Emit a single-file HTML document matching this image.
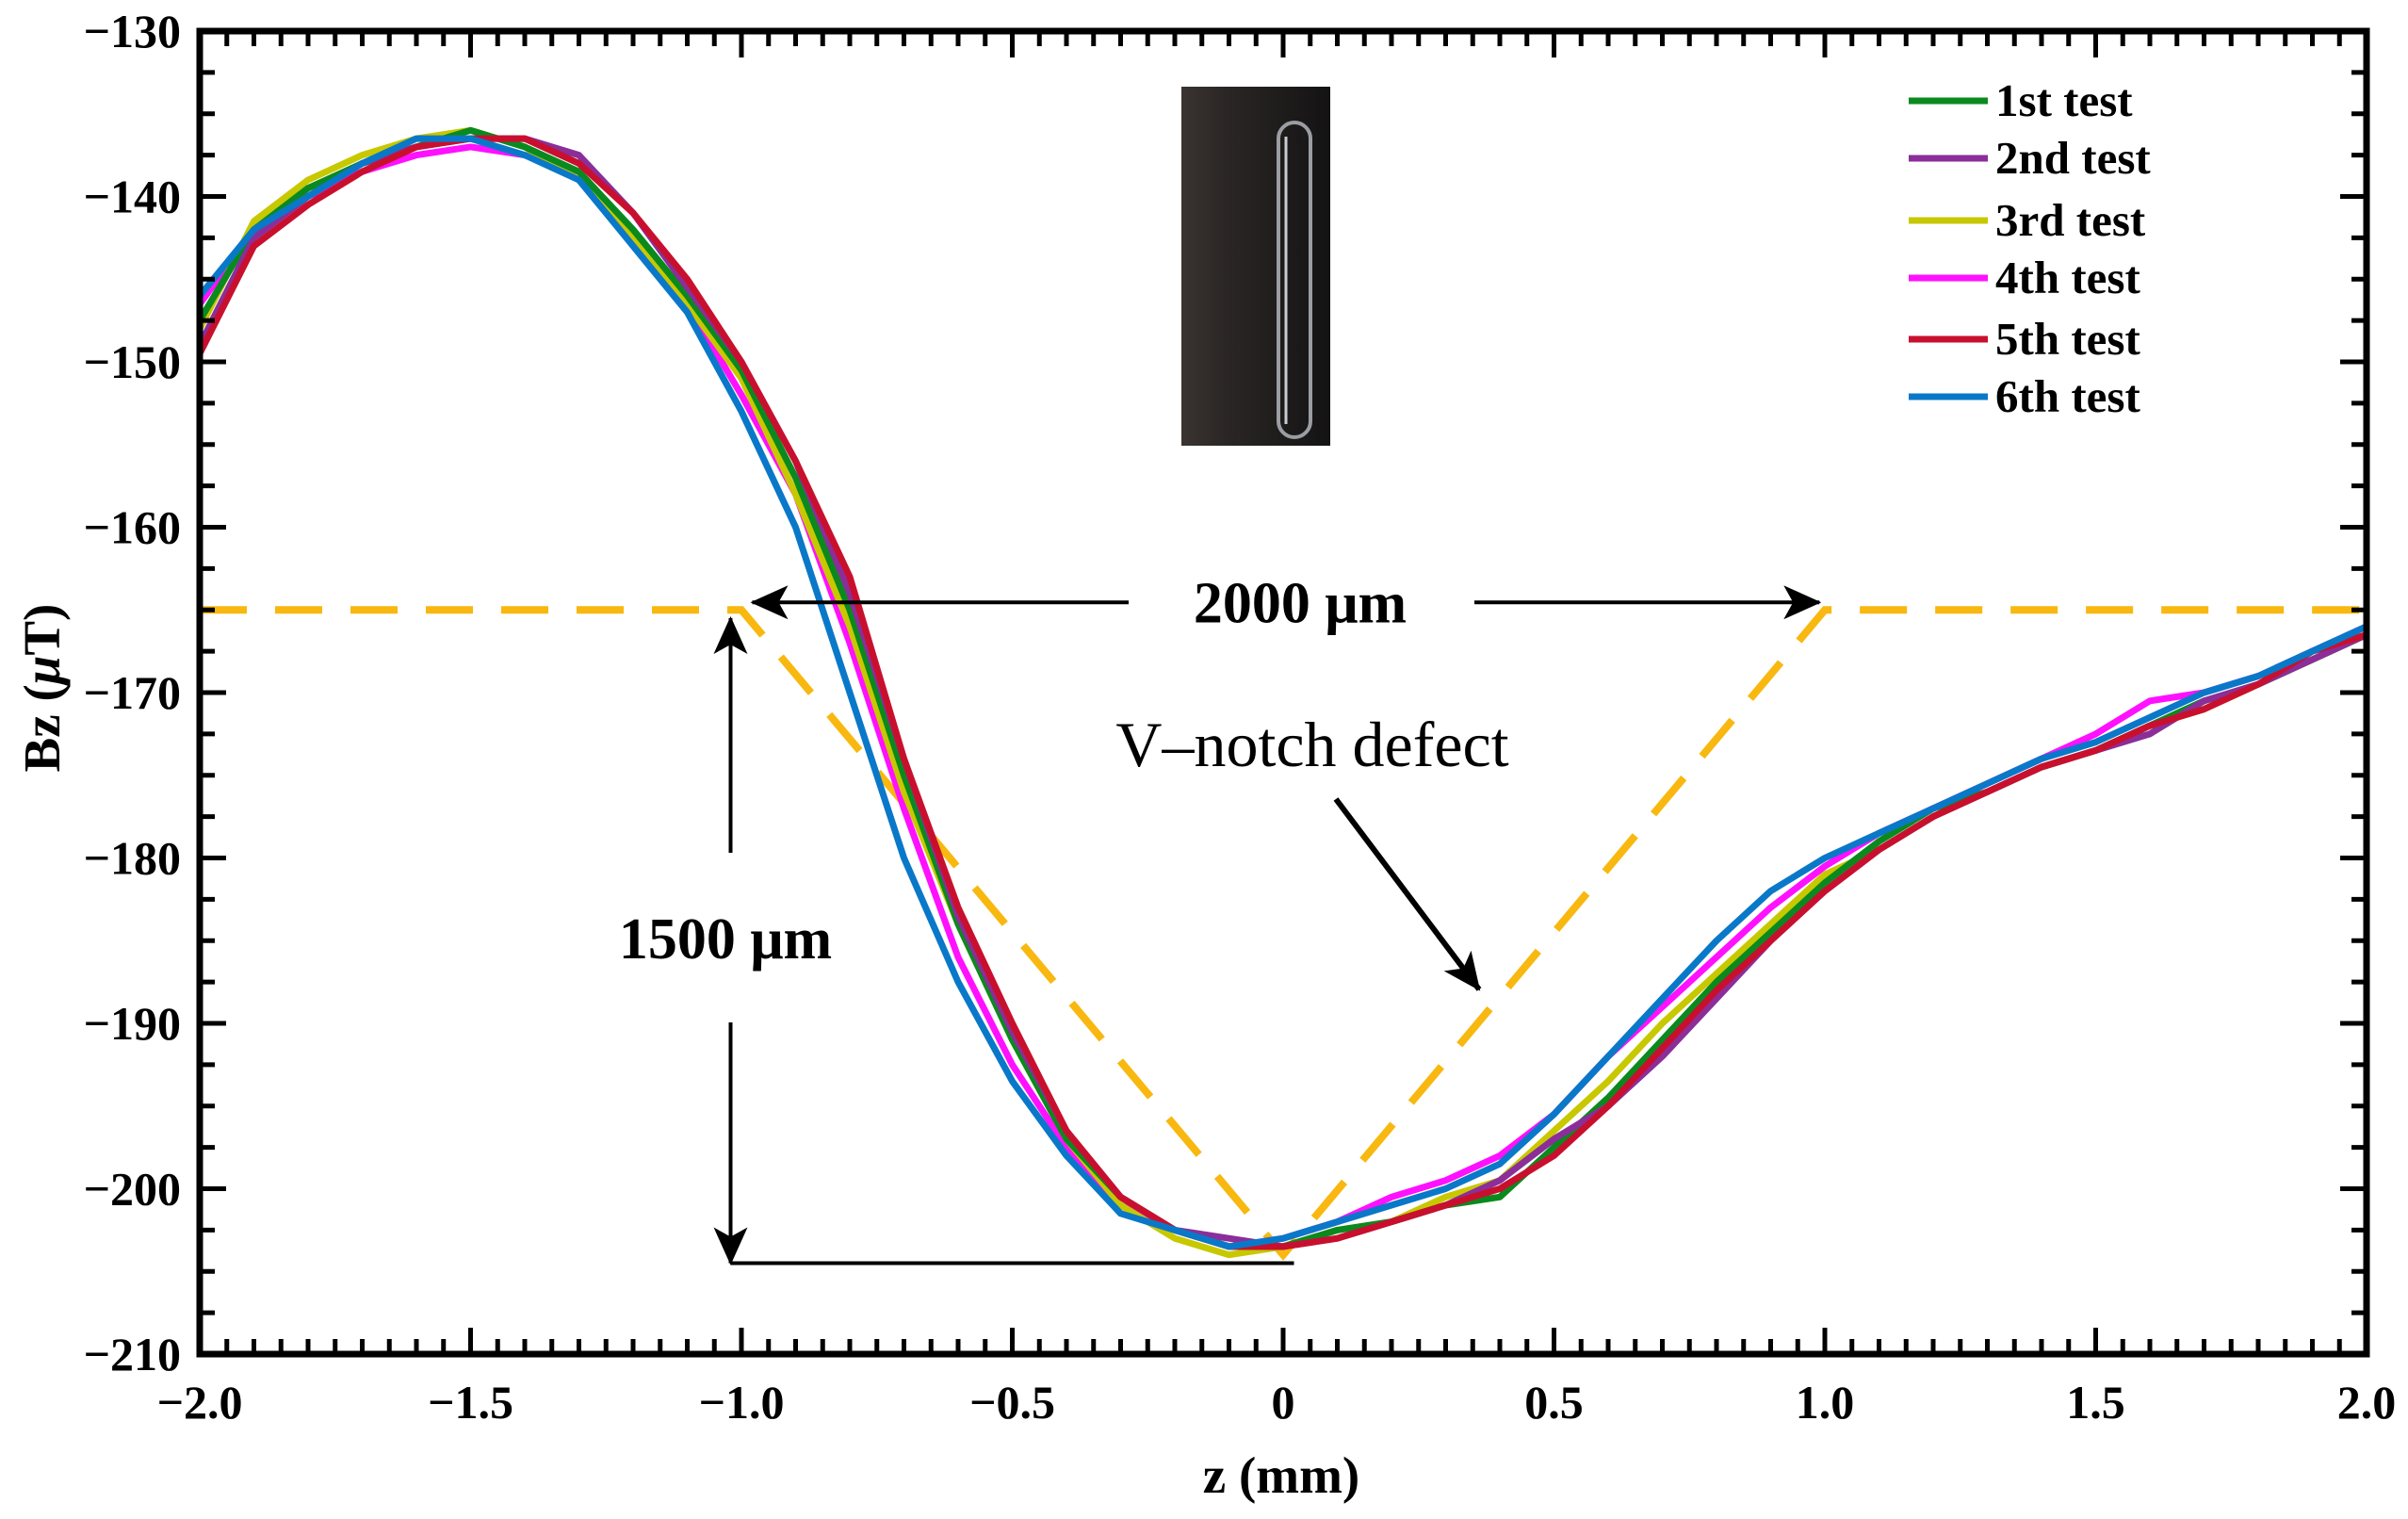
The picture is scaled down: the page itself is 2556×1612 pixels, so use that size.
<!DOCTYPE html>
<html><head><meta charset="utf-8"><style>
html,body{margin:0;padding:0;background:#fff;}
svg{display:block;font-family:"Liberation Serif",serif;}
</style></head><body>
<svg id="chart" width="2556" height="1612" viewBox="0 0 2556 1612">
<defs>
<linearGradient id="insetGrad" x1="0" x2="1" y1="0" y2="0">
<stop offset="0" stop-color="#3a3431"/><stop offset="0.3" stop-color="#2a2625"/><stop offset="1" stop-color="#141313"/>
</linearGradient>
<marker id="arrBig" viewBox="0 0 40 36" refX="38" refY="18" markerWidth="40" markerHeight="36" markerUnits="userSpaceOnUse" orient="auto"><path d="M0,0 L40,18 L0,36 L10,18 Z" fill="#000"/></marker>
</defs>
<g id="marks"></g>
<g id="axes"></g>
<g id="annot"></g>
<g id="legend"></g>
</svg>
<script>
const zValues = [-2,-1.9,-1.8,-1.7,-1.6,-1.5,-1.4,-1.3,-1.2,-1.1,-1.0,-0.9,-0.8,-0.7,-0.6,-0.5,-0.4,-0.3,-0.2,-0.1,0,0.1,0.2,0.3,0.4,0.5,0.6,0.7,0.8,0.9,1.0,1.1,1.2,1.3,1.4,1.5,1.6,1.7,1.8,1.9,2.0];
const test1 = [-147.5,-142,-139.5,-138,-137,-136,-137,-138.5,-142,-146,-150.5,-157,-165,-175,-184,-191,-197,-200.5,-202.5,-203.5,-203.5,-202.5,-202,-201,-200.5,-197.5,-194.5,-191,-187.5,-184.5,-181.5,-179,-177,-176,-174.5,-173.5,-172,-170.5,-169.5,-168,-166.5];
const test2 = [-149,-142.5,-140,-138,-137,-136.5,-136.5,-137.5,-141,-145.5,-150,-156,-164,-174,-183.5,-190.5,-196.5,-200.5,-202.5,-203,-203.5,-203,-202,-201,-199.5,-197,-195,-192,-188.5,-185,-182,-179.5,-177.5,-176,-174.5,-173.5,-172.5,-170.5,-169.5,-168,-166.5];
const test3 = [-148,-141.5,-139,-137.5,-136.5,-136,-137,-139,-142.5,-146.5,-151,-158,-166,-176,-184,-191,-197,-201,-203,-204,-203.5,-202.5,-202,-200.5,-199.5,-196.5,-193.5,-190,-187,-184,-181,-179.5,-177.5,-176,-174.5,-173.5,-172,-171,-169.5,-168,-166.5];
const test4 = [-146.5,-142,-140,-138.5,-137.5,-137,-137.5,-138.5,-142.5,-146.5,-152,-158,-167,-177,-186,-192.5,-197.5,-201,-202.5,-203.5,-203,-202,-200.5,-199.5,-198,-195.5,-192,-189,-186,-183,-180.5,-178.5,-177,-175.5,-174,-172.5,-170.5,-170,-169,-167.5,-166];
const test5 = [-149.5,-143,-140.5,-138.5,-137,-136.5,-136.5,-138,-141,-145,-150,-156,-163,-174,-183,-190,-196.5,-200.5,-202.5,-203.5,-203.5,-203,-202,-201,-200,-198,-195,-191.5,-188,-185,-182,-179.5,-177.5,-176,-174.5,-173.5,-172,-171,-169.5,-167.5,-166.5];
const test6 = [-146,-142,-140,-138,-136.5,-136.5,-137.5,-139,-143,-147,-153,-160,-170,-180,-187.5,-193.5,-198,-201.5,-202.5,-203.5,-203,-202,-201,-200,-198.5,-195.5,-192,-188.5,-185,-182,-180,-178.5,-177,-175.5,-174,-173,-171.5,-170,-169,-167.5,-166];
const seriesNames = ["1st test","2nd test","3rd test","4th test","5th test","6th test"];
const notchZ = [-2,-1,0,1,2];
const notchB = [-165,-165,-204,-165,-165];
const xTicks = [-2.0,-1.5,-1.0,-0.5,0,0.5,1.0,1.5,2.0];
const xTickLabels = ["\u22122.0","\u22121.5","\u22121.0","\u22120.5","0","0.5","1.0","1.5","2.0"];
const yTicks = [-130,-140,-150,-160,-170,-180,-190,-200,-210];
const yTickLabels = ["\u2212130","\u2212140","\u2212150","\u2212160","\u2212170","\u2212180","\u2212190","\u2212200","\u2212210"];

const L=212,R=2512,T=33,B=1437;
const X0=-2,X1=2,Y0=-210,Y1=-130;
const xs=v=>L+(v-X0)/(X1-X0)*(R-L);
const ys=v=>B-(v-Y0)/(Y1-Y0)*(B-T);
const NS='http://www.w3.org/2000/svg';
function mk(tag,attrs,parent){const e=document.createElementNS(NS,tag);for(const k in attrs)e.setAttribute(k,attrs[k]);parent.appendChild(e);return e;}
const marks=document.getElementById('marks'),axes=document.getElementById('axes'),annot=document.getElementById('annot'),legend=document.getElementById('legend');

const inset=mk('g',{},marks);


mk('rect',{x:1254,y:92,width:158,height:381,fill:'url(#insetGrad)'},inset);
mk('rect',{x:1357,y:130,width:34,height:334,rx:17,fill:'none',stroke:'#9a9ea3','stroke-width':4},inset);
mk('line',{x1:1365,y1:145,x2:1365,y2:450,stroke:'#c8ccd0','stroke-width':3},inset);

const np=notchZ.map((z,i)=>xs(z)+','+ys(notchB[i])).join(' ');
const notch=mk('polyline',{points:np,fill:'none',stroke:'#f8b810','stroke-width':8,'stroke-dasharray':'50 30'},marks);



const series=[test1,test2,test3,test4,test5,test6];
const colors=['#0a8a1e','#8b2e9a','#c8c800','#ff10ff','#c8102e','#0a78c8'];
const drawOrder=[3,2,0,1,4,5];
drawOrder.forEach(si=>{
  const pts=zValues.map((z,i)=>xs(z).toFixed(1)+','+ys(series[si][i]).toFixed(1)).join(' ');
  const pl=mk('polyline',{points:pts,fill:'none',stroke:colors[si],'stroke-width':7,'stroke-linejoin':'round'},marks);
  
  
});

const frame=mk('rect',{x:L,y:T,width:R-L,height:B-T,fill:'none',stroke:'#000','stroke-width':7},axes);


for(let i=0;i<=80;i++){const v=X0+i*0.05;const len=(i%10===0)?28:16;const x=xs(v);
  mk('line',{x1:x,y1:B,x2:x,y2:B-len,stroke:'#000','stroke-width':5},axes);
  mk('line',{x1:x,y1:T,x2:x,y2:T+len,stroke:'#000','stroke-width':5},axes);}
for(let i=0;i<=32;i++){const v=Y0+i*2.5;const len=(i%4===0)?28:16;const y=ys(v);
  mk('line',{x1:L,y1:y,x2:L+len,y2:y,stroke:'#000','stroke-width':5},axes);
  mk('line',{x1:R,y1:y,x2:R-len,y2:y,stroke:'#000','stroke-width':5},axes);}
xTicks.forEach((v,i)=>{const t=mk('text',{x:xs(v),y:1505,'text-anchor':'middle','font-size':50,'font-weight':'bold'},axes);t.textContent=xTickLabels[i];
  
  });
yTicks.forEach((v,i)=>{const t=mk('text',{x:192,y:ys(v)+17,'text-anchor':'end','font-size':50,'font-weight':'bold'},axes);t.textContent=yTickLabels[i];
  
  });
const xt=mk('text',{x:1360,y:1584,'text-anchor':'middle','font-size':55,'font-weight':'bold'},axes);xt.textContent='z (mm)';


const yt=mk('text',{x:0,y:0,'text-anchor':'middle','font-size':55,'font-weight':'bold',transform:'translate(63,730) rotate(-90)'},axes);
yt.innerHTML='Bz (<tspan font-style="italic">\u03bc</tspan>T)';



const yTop=ys(-165);
mk('line',{x1:1198,y1:yTop-8,x2:xs(-0.98),y2:yTop-8,stroke:'#000','stroke-width':4,'marker-end':'url(#arrBig)'},annot);
mk('line',{x1:1565,y1:yTop-8,x2:xs(0.99),y2:yTop-8,stroke:'#000','stroke-width':4,'marker-end':'url(#arrBig)'},annot);
const t2000=mk('text',{x:1380,y:yTop+13,'text-anchor':'middle','font-size':62,'font-weight':'bold'},annot);t2000.textContent='2000 \u03bcm';


const vx=xs(-1.02);
mk('line',{x1:vx,y1:905,x2:vx,y2:ys(-165.5),stroke:'#000','stroke-width':4,'marker-end':'url(#arrBig)'},annot);
mk('line',{x1:vx,y1:1085,x2:vx,y2:ys(-204.5),stroke:'#000','stroke-width':4,'marker-end':'url(#arrBig)'},annot);
mk('line',{x1:vx,y1:ys(-204.5),x2:xs(0.02),y2:ys(-204.5),stroke:'#000','stroke-width':4},annot);
const t1500=mk('text',{x:770,y:1017,'text-anchor':'middle','font-size':62,'font-weight':'bold'},annot);t1500.textContent='1500 \u03bcm';


const tv=mk('text',{x:1393,y:813,'text-anchor':'middle','font-size':68},annot);tv.textContent='V\u2013notch defect';


mk('line',{x1:1418,y1:848,x2:1570,y2:1050,stroke:'#000','stroke-width':6,'marker-end':'url(#arrBig)'},annot);

const ly=[107,168,234,295,360,421];
seriesNames.forEach((n,i)=>{
  const g=mk('g',{},legend);
  
  
  mk('line',{x1:2026,y1:ly[i],x2:2110,y2:ly[i],stroke:colors[i],'stroke-width':7},g);
  const t=mk('text',{x:2118,y:ly[i]+16,'font-size':49,'font-weight':'bold'},g);t.textContent=n;
});
</script>
</body></html>
